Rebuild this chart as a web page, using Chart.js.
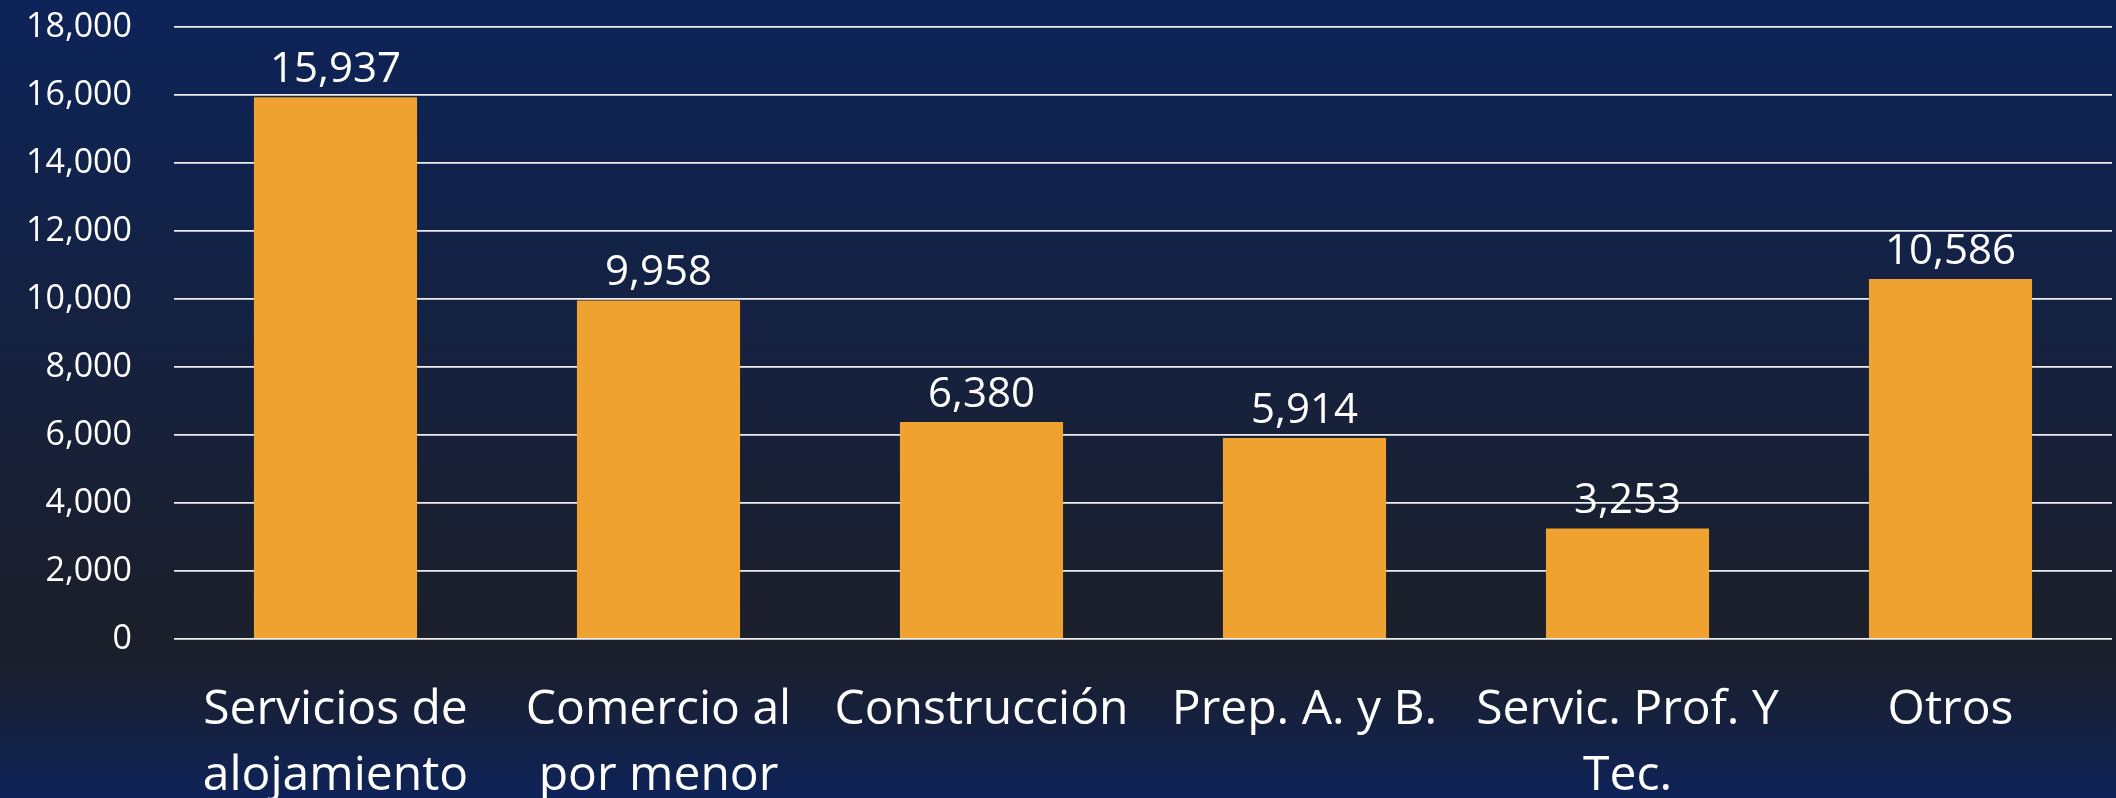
<!DOCTYPE html>
<html>
<head>
<meta charset="utf-8">
<script src="https://cdn.jsdelivr.net/npm/chart.js@4.4.1/dist/chart.umd.min.js"></script>
<style>
html,body{margin:0;padding:0;background:#0d2358;overflow:hidden;}
#c{display:block;}
</style>
</head>
<body>
<canvas id="c" width="2116" height="798"></canvas>
<script>
const categories = [["Servicios de","alojamiento"],["Comercio al","por menor"],"Construcción","Prep. A. y B.",["Servic. Prof. Y","Tec."],"Otros"];
const values = [15937, 9958, 6380, 5914, 3253, 10586];
const yTicks = [0,2000,4000,6000,8000,10000,12000,14000,16000,18000];
const barColor = '#EFA22F';

const fmt = v => v.toLocaleString('en-US');

const bgPlugin = {
  id: 'bg',
  beforeDraw(chart) {
    const ctx = chart.ctx;
    const h = chart.height;
    const g = ctx.createLinearGradient(0, 0, 0, h);
    g.addColorStop(0, '#0d2459');
    g.addColorStop(0.77, '#1b1f2b');
    g.addColorStop(0.83, '#1b1f2c');
    g.addColorStop(1, '#0e2358');
    ctx.save();
    ctx.fillStyle = g;
    ctx.fillRect(0, 0, chart.width, h);
    ctx.restore();
  }
};

const labelPlugin = {
  id: 'vals',
  afterDatasetsDraw(chart) {
    const ctx = chart.ctx;
    const meta = chart.getDatasetMeta(0);
    ctx.save();
    ctx.fillStyle = '#ffffff';
    ctx.font = '42px "Open Sans"';
    ctx.textAlign = 'center';
    ctx.textBaseline = 'alphabetic';
    meta.data.forEach((bar, i) => {
      ctx.fillText(fmt(values[i]), bar.x, bar.y - 15);
    });
    ctx.restore();
  }
};

new Chart(document.getElementById('c'), {
  type: 'bar',
  data: {
    labels: categories,
    datasets: [{
      data: values,
      backgroundColor: barColor,
      borderWidth: 0,
      categoryPercentage: 0.505,
      barPercentage: 1.0
    }]
  },
  options: {
    responsive: false,
    animation: false,
    devicePixelRatio: 1,
    layout: { padding: { top: 27, right: 4, left: 0, bottom: 0 } },
    plugins: { legend: { display: false }, tooltip: { enabled: false } },
    scales: {
      x: {
        offset: true,
        grid: { display: false, drawTicks: false },
        border: { display: false },
        ticks: {
          color: '#ffffff',
          font: { family: '"Open Sans"', size: 48, lineHeight: 1.36 },
          padding: 39,
          maxRotation: 0,
          minRotation: 0,
          autoSkip: false
        },
        afterFit(scale) { scale.height = 159; scale.paddingLeft = 0; scale.paddingRight = 0; scale.paddingTop = 0; scale.paddingBottom = 0; }
      },
      y: {
        min: 0,
        max: 18000,
        afterBuildTicks(scale) { scale.ticks = yTicks.map(v => ({ value: v })); },
        grid: { color: '#eeeeee', lineWidth: 1.8, drawTicks: false },
        border: { display: false },
        ticks: {
          color: '#ffffff',
          font: { family: '"Open Sans"', size: 34 },
          padding: 42,
          callback: v => fmt(v)
        },
        afterFit(scale) { scale.width = 174; scale.paddingTop = 0; scale.paddingBottom = 0; scale.paddingLeft = 0; scale.paddingRight = 0; }
      }
    }
  },
  plugins: [bgPlugin, labelPlugin]
});
</script>
</body>
</html>
